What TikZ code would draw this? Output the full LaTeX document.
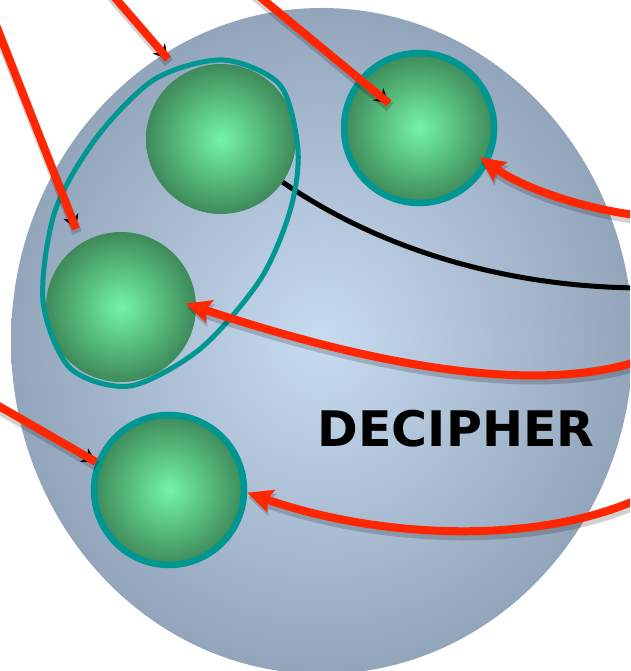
\documentclass[tikz,border=0pt]{standalone}
\usepackage{fontspec}
\setsansfont{DejaVu Sans}
\usepackage{tikz}
\usetikzlibrary{arrows.meta}
\definecolor{discedge}{HTML}{93A5BB}
\definecolor{disccore}{HTML}{C7DBF1}
\definecolor{balledge}{HTML}{3E8A5A}
\definecolor{ballcore}{HTML}{74F4A6}
\definecolor{ringteal}{HTML}{009691}
\definecolor{linkred}{HTML}{FF2600}

\begin{document}
\begin{tikzpicture}[x=1pt, y=1pt,
    ball/.style={circle, inner sep=0pt, minimum size=150pt, shading=radial,
                 inner color=ballcore, outer color=balledge},
    ringball/.style={ball, draw=ringteal, line width=6.5pt, minimum size=150pt},
    grp/.style={draw=ringteal, line width=5pt},
    link/.style={draw=linkred, line width=8pt,
                 preaction={draw=black, draw opacity=0.18, line width=10pt,
                            transform canvas={shift={(1pt,-4pt)}}}},
    blacktip/.style={draw=black, line width=1pt, -{Stealth[length=14pt, width=16pt]}},
    redhead/.style={link, -{Stealth[length=25pt, width=23pt, inset=4pt]}},
    wire/.style={draw=black, line width=5pt},
    word/.style={font=\sffamily\bfseries\fontsize{49}{49}\selectfont}
  ]
  \useasboundingbox (0,0) rectangle (630,671);
  \clip (0,0) rectangle (630,671);
  \shade[inner color=disccore, outer color=discedge] (322,330) ellipse [x radius=311pt, y radius=333pt];

  \node[ball] (g1) at (221,532) {};
  \node[ringball] (g2) at (419,543) {};
  \node[ball] (g3) at (121,364) {};
  \node[ringball] (g4) at (169,181) {};

  \coordinate (s1) at (-10,661);  \coordinate (e1) at (76,442);
  \coordinate (s2) at (110,679);  \coordinate (e2) at (168,612);
  \coordinate (s3) at (254,679);
  \coordinate (s4) at (-10,270);
  \coordinate (s5) at (645,455);
  \coordinate (s6) at (645,312);
  \coordinate (s7) at (645,175);
  \coordinate (k1) at (645,383);

  \draw[wire] (g1.-35) .. controls (390,415) and (520,383) .. (k1);
  \draw[grp] plot[smooth cycle] coordinates {(223,611) (280,586) (298,521) (290,460) (260,391)
    (200,322) (130,285) (70,303) (43,370) (55,460) (97,534) (155,592)};

  \draw[blacktip] (s1) -- (e1);
  \draw[link] (s1) -- (e1);
  \draw[blacktip] (s2) -- (e2);
  \draw[link] (s2) -- (e2);
  \draw[blacktip, shorten >=39pt] (s3) -- (g2.center);
  \draw[link, shorten >=39pt] (s3) -- (g2.center);
  \draw[blacktip] (s4) -- (g4.159);
  \draw[link] (s4) -- (g4.159);

  \draw[redhead, shorten >=-11pt] (s5) .. controls (590,460) and (524,482) .. (g2.-27);
  \draw[redhead, shorten >=-11pt] (s6) .. controls (560,282) and (420,290) .. (g3.east);
  \draw[redhead] (s7) .. controls (540,125) and (380,132) .. (g4.-2);

  \node[word, anchor=base] (title) at (456,224) {DECIPHER};
\end{tikzpicture}
\end{document}
